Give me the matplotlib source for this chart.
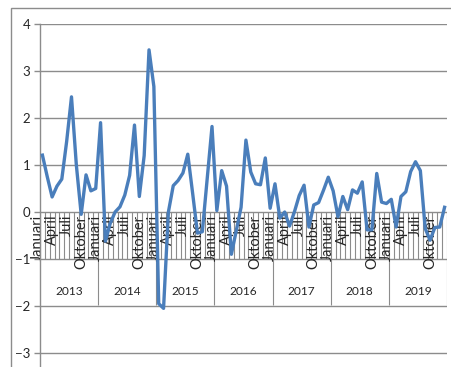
import matplotlib
matplotlib.use("Agg")
import matplotlib.pyplot as plt
import numpy as np
from matplotlib.patches import Rectangle

plt.rcParams["font.family"] = ["Lato", "DejaVu Sans"]

YEARS = ["2013", "2014", "2015", "2016", "2017", "2018", "2019"]
MONTH_LABELS = ["Januari", "April", "Juli", "Oktober"]  # every third month

# monthly values, Jan 2013 .. Dec 2019
V2013 = [1.21, 0.75, 0.32, 0.55, 0.70, 1.50, 2.45, 1.00, -0.05, 0.79, 0.45, 0.50]
V2014 = [1.90, -0.62, -0.24, 0.00, 0.11, 0.36, 0.78, 1.85, 0.33, 1.20, 3.45, 2.67]
V2015 = [-1.95, -2.05, 0.00, 0.56, 0.67, 0.83, 1.23, 0.40, -0.45, -0.42, 0.70, 1.82]
V2016 = [0.03, 0.88, 0.55, -0.90, -0.40, 0.10, 1.53, 0.85, 0.60, 0.58, 1.15, 0.08]
V2017 = [0.60, -0.13, 0.00, -0.30, 0.00, 0.35, 0.57, -0.32, 0.15, 0.20, 0.46, 0.74]
V2018 = [0.45, -0.10, 0.33, 0.05, 0.47, 0.40, 0.64, -0.38, -0.38, 0.82, 0.21, 0.18]
V2019 = [0.27, -0.32, 0.33, 0.43, 0.86, 1.07, 0.88, -0.35, -0.60, -0.33, -0.32, 0.10]

GRID = "#8c8c8c"
LINE = "#4a7ebb"
TXT = "#262626"

values = np.array(V2013 + V2014 + V2015 + V2016 + V2017 + V2018 + V2019)
n = len(values)
pos = np.arange(n) + 0.5

W, H = 451, 367
fig = plt.figure(figsize=(W / 100, H / 100), dpi=100)
fig.patch.set_facecolor("white")

# chart-area frame (open at right and bottom edges of the image)
fig.add_artist(Rectangle((11 / W, -0.2), 1.2, 1.2 - 8 / H, transform=fig.transFigure,
                         fill=False, edgecolor=GRID, linewidth=1.0))

ax = fig.add_axes([40 / W, 0, 407 / W, 343 / H])
ax.set_xlim(0, n)
ax.set_ylim(-3.298, 4)
ax.set_yticks(range(-3, 5))
ax.yaxis.grid(True, color=GRID, linewidth=1.0)
ax.set_axisbelow(True)
ax.set_xticks([])
ax.tick_params(axis="y", length=4, width=1, color=GRID, pad=3,
               labelsize=9.5, labelcolor=TXT)
for s in ("top", "right", "bottom"):
    ax.spines[s].set_visible(False)
ax.spines["left"].set_color(GRID)
ax.spines["left"].set_linewidth(1.0)

# month tick lines between categories, then year dividers below
ax.vlines(np.arange(n + 1), -1, 0, color=GRID, linewidth=0.8, zorder=1)
ax.vlines(np.arange(12, n + 1, 12), -1.98, -1, color=GRID, linewidth=0.8, zorder=1)

for k in range(0, n, 3):
    ax.text(k - 0.5, -0.06, MONTH_LABELS[(k % 12) // 3], rotation=90,
            ha="center", va="top", fontsize=10.5, color=TXT, zorder=2)
for i, y in enumerate(YEARS):
    ax.text(12 * i + 6, -1.70, y, ha="center", va="center",
            fontsize=8.6, color=TXT, zorder=2)

ax.plot(pos, values, color=LINE, linewidth=2.4, solid_joinstyle="round", zorder=3)

fig.savefig("out.png", dpi=100, facecolor="white")
